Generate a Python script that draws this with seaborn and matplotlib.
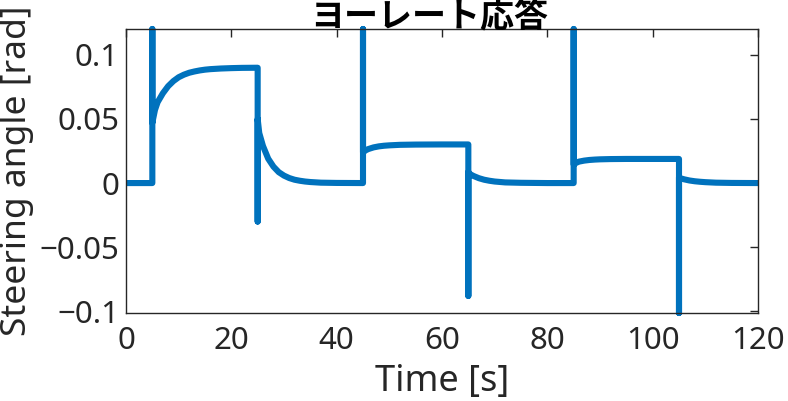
import numpy as np
import pandas as pd
import matplotlib
matplotlib.use("Agg")
import matplotlib.pyplot as plt
from matplotlib.patches import Rectangle
import seaborn as sns

# Steering angle response, segment by segment (time in s, angle in rad)
t_idle = [0.0, 5.0]
y_idle = [0.0, 0.0]

t_step1 = [5.0, 5.0, 5.5, 6.0, 7.0, 8.0, 9.0, 10.0, 11.0, 12.0, 13.0, 14.0,
           15.0, 16.0, 18.0, 20.0, 22.0, 25.0]
y_step1 = [0.1201, 0.047, 0.057, 0.063, 0.070, 0.0755, 0.0795, 0.0825, 0.0845,
           0.086, 0.087, 0.0878, 0.0884, 0.0888, 0.0893, 0.0896, 0.0898, 0.0899]

t_rel1 = [25.0, 25.0, 25.3, 26.0, 27.0, 28.0, 29.0, 30.0, 31.0, 32.0, 33.0,
          34.0, 35.0, 37.0, 40.0, 45.0]
y_rel1 = [-0.030, 0.050, 0.039, 0.029, 0.019, 0.0128, 0.0085, 0.0058, 0.0039,
          0.0026, 0.0018, 0.0012, 0.0008, 0.0003, 0.0001, 0.0]

t_step2 = [45.0, 45.0, 45.5, 46.0, 47.0, 48.0, 49.0, 50.0, 52.0, 55.0, 60.0, 65.0]
y_step2 = [0.1201, 0.024, 0.0255, 0.0265, 0.0278, 0.0286, 0.0291, 0.0294,
           0.0298, 0.0300, 0.0301, 0.0301]

t_rel2 = [65.0, 65.0, 65.3, 66.0, 67.0, 68.0, 69.0, 70.0, 72.0, 75.0, 80.0, 85.0]
y_rel2 = [-0.088, 0.0085, 0.007, 0.0055, 0.0038, 0.0026, 0.0018, 0.0012,
          0.0005, 0.0002, 0.0, 0.0]

t_step3 = [85.0, 85.0, 85.5, 86.0, 87.0, 88.0, 89.0, 90.0, 92.0, 95.0, 100.0, 105.0]
y_step3 = [0.1201, 0.0145, 0.0158, 0.0167, 0.0175, 0.0180, 0.0183, 0.0185,
           0.0187, 0.0188, 0.0188, 0.0188]

t_rel3 = [105.0, 105.0, 105.3, 106.0, 107.0, 108.0, 109.0, 110.0, 112.0,
          115.0, 120.0]
y_rel3 = [-0.1013, 0.0045, 0.0037, 0.0029, 0.0020, 0.0014, 0.0010, 0.0007,
          0.0003, 0.0001, 0.0]

x_ticks = [0, 20, 40, 60, 80, 100, 120]
y_ticks = [-0.1, -0.05, 0, 0.05, 0.1]
y_tick_labels = ["\u22120.1", "\u22120.05", "0", "0.05", "0.1"]

time = t_idle + t_step1 + t_rel1 + t_step2 + t_rel2 + t_step3 + t_rel3
angle = y_idle + y_step1 + y_rel1 + y_step2 + y_rel2 + y_step3 + y_rel3
df = pd.DataFrame({"time": time, "angle": angle})

sns.set_style("white")
plt.rcParams["font.family"] = ["Noto Sans", "Noto Sans CJK JP", "DejaVu Sans"]
plt.rcParams["axes.unicode_minus"] = True

ink = "#262626"
fig = plt.figure(figsize=(7.88, 4.01), dpi=100)
ax = fig.add_axes([126 / 788, 1 - 313 / 401, (758 - 126) / 788, (313 - 29) / 401])

sns.lineplot(data=df, x="time", y="angle", sort=False, estimator=None,
             color="#0072BD", linewidth=4.4, ax=ax,
             solid_capstyle="round", solid_joinstyle="round")
# clip only at the left/right edges so the spike caps stay visible
clip = Rectangle((0, -0.05), 1, 1.1, transform=ax.transAxes,
                 facecolor="none", edgecolor="none")
for line in ax.lines:
    line.set_clip_path(clip)

ax.set_xlim(0, 120)
ax.set_ylim(-0.1013, 0.1201)
ax.set_xticks(x_ticks)
ax.set_xticklabels([str(v) for v in x_ticks])
ax.set_yticks(y_ticks)
ax.set_yticklabels(y_tick_labels)

for side in ["top", "right", "bottom", "left"]:
    ax.spines[side].set_visible(True)
    ax.spines[side].set_color(ink)
    ax.spines[side].set_linewidth(1.0)

ax.tick_params(direction="in", length=6, width=1.0, color=ink,
               top=True, right=True, labelsize=22.5, labelcolor=ink)
ax.tick_params(axis="y", pad=5)
ax.tick_params(axis="x", pad=9.5)

ax.set_xlabel("Time [s]", fontsize=26, color=ink, labelpad=5.5)
ax.set_ylabel("Steering angle [rad]", fontsize=25.5, color=ink, labelpad=4)
ax.set_title("ヨーレート応答", fontsize=24.5, fontweight="bold", color="black",
             family=["Noto Sans CJK JP", "DejaVu Sans"],
             x=(429 - 126) / 632, pad=1.5)

fig.savefig("out.png", dpi=100)
